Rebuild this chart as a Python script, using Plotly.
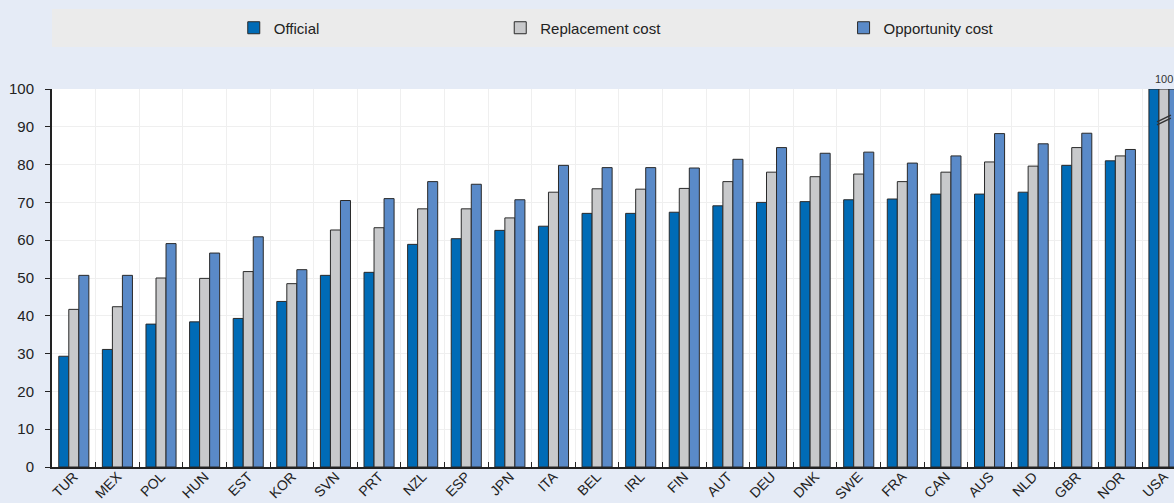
import plotly.graph_objects as go

countries = ["TUR", "MEX", "POL", "HUN", "EST", "KOR", "SVN", "PRT", "NZL", "ESP",
             "JPN", "ITA", "BEL", "IRL", "FIN", "AUT", "DEU", "DNK", "SWE", "FRA",
             "CAN", "AUS", "NLD", "GBR", "NOR", "USA"]
official = [29.3, 31.1, 37.8, 38.4, 39.3, 43.8, 50.7, 51.5, 58.9, 60.4,
            62.6, 63.7, 67.1, 67.1, 67.4, 69.1, 70.0, 70.2, 70.7, 70.9,
            72.2, 72.2, 72.7, 79.8, 81.0, 100]
replacement = [41.7, 42.4, 50.0, 49.9, 51.7, 48.5, 62.7, 63.3, 68.3, 68.3,
               65.9, 72.7, 73.6, 73.5, 73.7, 75.5, 78.0, 76.8, 77.5, 75.5,
               78.0, 80.7, 79.6, 84.5, 82.3, 100]
opportunity = [50.7, 50.7, 59.1, 56.6, 60.9, 52.2, 70.5, 71.0, 75.5, 74.8,
               70.7, 79.8, 79.2, 79.2, 79.1, 81.4, 84.5, 83.0, 83.3, 80.4,
               82.3, 88.2, 85.5, 88.3, 84.0, 100]
series_names = ["Official", "Replacement cost", "Opportunity cost"]
usa_label = "100"

colors = ["#006BB6", "#C8C9CB", "#5A8AC8"]
FONT = "Liberation Sans, Arial, sans-serif"

fig = go.Figure()
for i, (name, vals, col) in enumerate(zip(series_names, [official, replacement, opportunity], colors)):
    fig.add_trace(go.Bar(
        x=countries, y=vals, name=name, showlegend=True,
        marker=dict(color=col, line=dict(color="#2a2a2a", width=1)),
        legend="legend" if i == 0 else f"legend{i+1}",
    ))

ymax = 100
# break marks on the USA (clipped) bar
ui = countries.index("USA")
for dy in (0.0, -0.8):
    fig.add_shape(type="line", xref="x", yref="y",
                  x0=ui - 0.16, x1=ui + 0.16, y0=ymax - 8.7 + dy, y1=ymax - 6.9 + dy,
                  line=dict(color="#333333", width=1.5))

fig.add_annotation(x="USA", y=ymax, text=usa_label, showarrow=False, yanchor="bottom",
                   yshift=2, font=dict(size=11, color="#333333", family=FONT))

# legend band
fig.add_shape(type="rect", xref="paper", yref="paper", x0=0, x1=1, y0=1.111, y1=1.2116,
              fillcolor="#EBEBEB", line=dict(width=0), layer="below")

leg_common = dict(orientation="h", yanchor="middle", y=1.1614, xanchor="left",
                  bgcolor="rgba(0,0,0,0)", font=dict(size=15, family=FONT, color="#222222"))
fig.update_layout(
    width=1174, height=503,
    margin=dict(l=52, r=0, t=89, b=36),
    paper_bgcolor="#E5EBF6", plot_bgcolor="#FFFFFF",
    font=dict(family=FONT, size=15, color="#222222"),
    showlegend=True,
    barmode="group", bargap=0.31, bargroupgap=0,
    legend=dict(x=0.162, **leg_common),
    legend2=dict(x=0.3995, **leg_common),
    legend3=dict(x=0.7055, **leg_common),
    xaxis=dict(type="category", range=[-0.5, 25.23], tickson="boundaries", ticks="inside",
               ticklen=5, tickcolor="#222222", showgrid=True, gridcolor="#EFEFEF",
               showline=True, linecolor="#222222", linewidth=2, tickangle=-45,
               tickfont=dict(size=14), automargin=False, ticklabelstandoff=-6),
    yaxis=dict(range=[0, ymax], dtick=10, ticks="outside", ticklen=5, tickcolor="#222222",
               showgrid=True, gridcolor="#EFEFEF", showline=True, linecolor="#222222",
               linewidth=2, zeroline=False, tickfont=dict(size=15), ticklabelstandoff=8,
               automargin=False),
)

fig.write_html("out.html", config={"displayModeBar": False},
               post_script="document.body.style.margin='0';document.body.style.overflow='hidden';")
